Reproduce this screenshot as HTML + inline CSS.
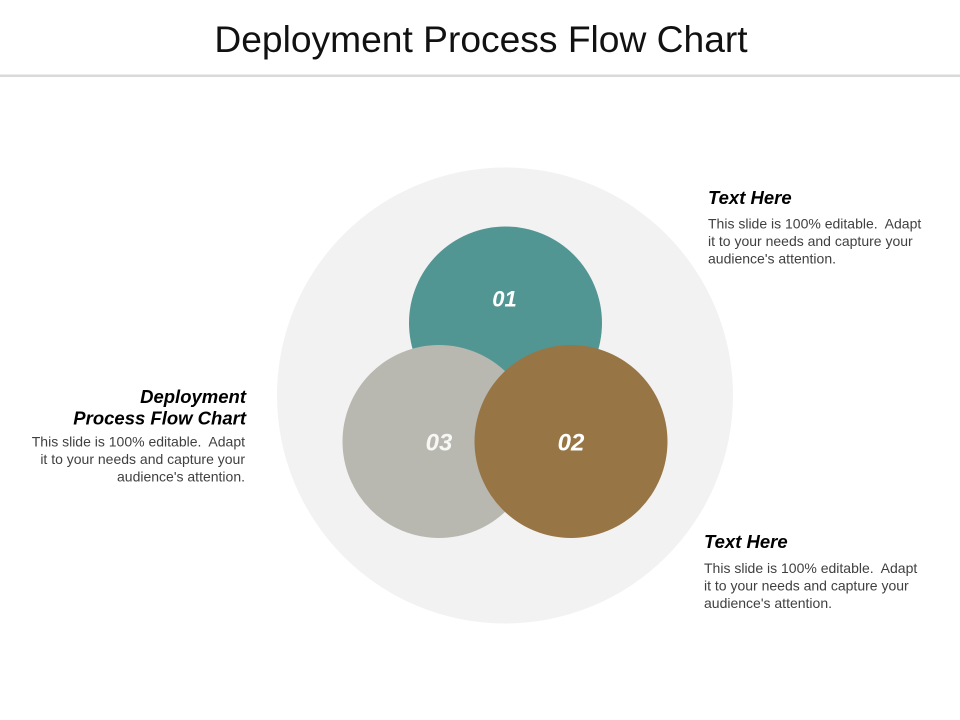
<!DOCTYPE html>
<html>
<head>
<meta charset="utf-8">
<style>
  html, body { margin: 0; padding: 0; background: #ffffff; }
  body { width: 960px; height: 720px; overflow: hidden; }
  svg { display: block; }
  text { font-family: "Liberation Sans", Arial, sans-serif; }
</style>
</head>
<body>
<svg width="960" height="720" viewBox="0 0 960 720" xmlns="http://www.w3.org/2000/svg">
  <rect x="0" y="0" width="960" height="720" fill="#ffffff"/>
  <!-- Title -->
  <text x="481" y="52" text-anchor="middle" font-size="37.2" fill="#111111">Deployment Process Flow Chart</text>
  <rect x="0" y="74.5" width="960" height="2.5" fill="#d9d9d9"/>

  <!-- Background circle -->
  <circle cx="505" cy="395.5" r="228" fill="#f2f2f2"/>

  <!-- Teal circle 01 -->
  <circle cx="505.5" cy="323" r="96.5" fill="#529694"/>
  <!-- Gray circle 03 -->
  <circle cx="439" cy="441.5" r="96.5" fill="#b8b8b0"/>
  <!-- Brown circle 02 -->
  <circle cx="571" cy="441.5" r="96.5" fill="#977545"/>

  <!-- Numbers -->
  <text x="504.5" y="306.5" text-anchor="middle" font-size="22" font-weight="bold" font-style="italic" fill="#ffffff">01</text>
  <text x="439" y="450.5" text-anchor="middle" font-size="24" font-weight="bold" font-style="italic" fill="#f7f7f5">03</text>
  <text x="571" y="450.5" text-anchor="middle" font-size="24" font-weight="bold" font-style="italic" fill="#ffffff">02</text>

  <!-- Right block 1 -->
  <text x="708" y="204" font-size="18.5" font-weight="bold" font-style="italic" fill="#000000">Text Here</text>
  <text x="708" y="228.5" font-size="14" fill="#404040" xml:space="preserve">This slide is 100% editable.  Adapt</text>
  <text x="708" y="246" font-size="14" fill="#404040">it to your needs and capture your</text>
  <text x="708" y="263.5" font-size="14" fill="#404040">audience's attention.</text>

  <!-- Right block 2 -->
  <text x="704" y="548" font-size="18.5" font-weight="bold" font-style="italic" fill="#000000">Text Here</text>
  <text x="704" y="573" font-size="14" fill="#404040" xml:space="preserve">This slide is 100% editable.  Adapt</text>
  <text x="704" y="590.5" font-size="14" fill="#404040">it to your needs and capture your</text>
  <text x="704" y="608" font-size="14" fill="#404040">audience's attention.</text>

  <!-- Left block -->
  <text x="246" y="403" text-anchor="end" font-size="18.5" font-weight="bold" font-style="italic" fill="#000000">Deployment</text>
  <text x="246" y="424.5" text-anchor="end" font-size="18.5" font-weight="bold" font-style="italic" fill="#000000">Process Flow Chart</text>
  <text x="245" y="446.5" text-anchor="end" font-size="14" fill="#404040" xml:space="preserve">This slide is 100% editable.  Adapt</text>
  <text x="245" y="464" text-anchor="end" font-size="14" fill="#404040">it to your needs and capture your</text>
  <text x="245" y="481.5" text-anchor="end" font-size="14" fill="#404040">audience's attention.</text>
</svg>
</body>
</html>
